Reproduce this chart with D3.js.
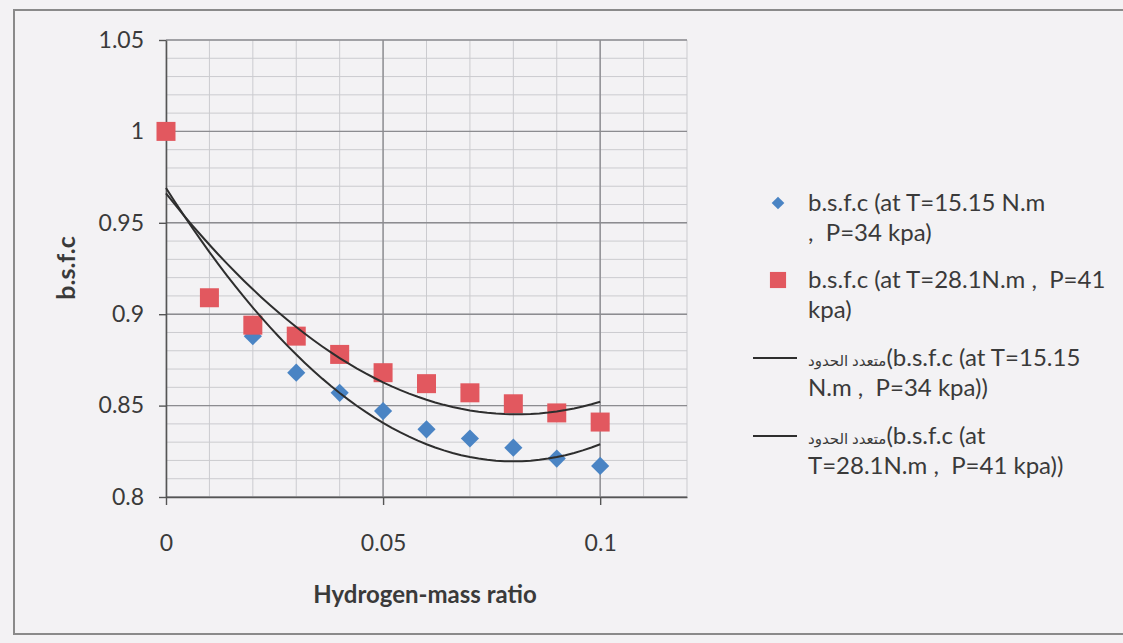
<!DOCTYPE html>
<html>
<head>
<meta charset="utf-8">
<script src="https://cdn.jsdelivr.net/npm/d3@7"></script>
<style>
  body { margin: 0; background: #f3f2f4; }
  text { font-family: Lato, "Open Sans", "DejaVu Sans", sans-serif; fill: #3a3a3a; }
</style>
</head>
<body>
<div id="grafico"></div>
<script>

// Data
const hydrogenRatio = [0, 0.01, 0.02, 0.03, 0.04, 0.05, 0.06, 0.07, 0.08, 0.09, 0.1]
const bsfcT15 = [1.0, 0.909, 0.888, 0.868, 0.857, 0.847, 0.837, 0.832, 0.827, 0.821, 0.817]
const bsfcT28 = [1.0, 0.909, 0.894, 0.888, 0.878, 0.868, 0.862, 0.857, 0.851, 0.846, 0.841]

const xTicks = [0, 0.05, 0.1]
const yTicks = [0.8, 0.85, 0.9, 0.95, 1, 1.05]

const legendText = [
    ["b.s.f.c (at T=15.15 N.m", ",  P=34 kpa)"],
    ["b.s.f.c (at T=28.1N.m ,  P=41", "kpa)"],
    ["متعدد الحدود(b.s.f.c (at T=15.15", "N.m ,  P=34 kpa))"],
    ["متعدد الحدود(b.s.f.c (at", "T=28.1N.m ,  P=41 kpa))"]
]

const blue = '#4a84c4'
const red = '#e2585f'

// Chart settings
const W = 1123, H = 643
const plot = { left: 166, right: 687, top: 40, bottom: 497 }

const svg = d3.select('#grafico').append('svg')
    .attr('width', W)
    .attr('height', H)

svg.append('rect').attr('width', W).attr('height', H).attr('fill', '#f3f2f4')

// Outer frame (photographed border)
svg.append('rect')
    .attr('x', 14).attr('y', 10)
    .attr('width', 1115).attr('height', 624)
    .attr('fill', 'none')
    .attr('stroke', '#8a8a8a')
    .attr('stroke-width', 2)

// Scales
const x = d3.scaleLinear().domain([0, 0.12]).range([plot.left, plot.right])
const y = d3.scaleLinear().domain([0.8, 1.05]).range([plot.bottom, plot.top])

// Minor grid (every 0.01)
const grid = svg.append('g')
grid.selectAll('.vmin').data(d3.range(0, 0.1205, 0.01)).join('line')
    .attr('x1', d => x(d)).attr('x2', d => x(d))
    .attr('y1', plot.top).attr('y2', plot.bottom)
    .attr('stroke', '#cbcbcf').attr('stroke-width', 1)
grid.selectAll('.hmin').data(d3.range(0.8, 1.0505, 0.01)).join('line')
    .attr('x1', plot.left).attr('x2', plot.right)
    .attr('y1', d => y(d)).attr('y2', d => y(d))
    .attr('stroke', '#cbcbcf').attr('stroke-width', 1)

// Major grid
grid.selectAll('.vmaj').data(xTicks.slice(1)).join('line')
    .attr('x1', d => x(d)).attr('x2', d => x(d))
    .attr('y1', plot.top).attr('y2', plot.bottom)
    .attr('stroke', '#8c8c90').attr('stroke-width', 1.4)
grid.selectAll('.hmaj').data(yTicks).join('line')
    .attr('x1', plot.left).attr('x2', plot.right)
    .attr('y1', d => y(d)).attr('y2', d => y(d))
    .attr('stroke', '#8c8c90').attr('stroke-width', 1.4)

// Axes
const fmt = d => String(+d.toFixed(2))

const gx = svg.append('g')
    .attr('transform', `translate(0, ${plot.bottom})`)
    .call(d3.axisBottom(x).tickValues(xTicks).tickFormat(fmt).tickSize(8).tickPadding(30).tickSizeOuter(0))
const gy = svg.append('g')
    .attr('transform', `translate(${plot.left}, 0)`)
    .call(d3.axisLeft(y).tickValues(yTicks).tickFormat(fmt).tickSize(7).tickPadding(15).tickSizeOuter(0))

for (const g of [gx, gy]) {
    g.select('.domain').attr('stroke', '#555').attr('stroke-width', 1.6)
    g.selectAll('.tick line').attr('stroke', '#555').attr('stroke-width', 1.4)
    g.selectAll('.tick text').style('font-size', '23px').attr('fill', '#3a3a3a')
}

// Markers (blue diamonds first, red squares on top)
const diamond = d3.symbol().type(d3.symbolSquare).size(165)
const square = d3.symbol().type(d3.symbolSquare).size(361)

svg.append('g').selectAll('path').data(bsfcT15).join('path')
    .attr('d', diamond)
    .attr('transform', (d, i) => `translate(${x(hydrogenRatio[i])}, ${y(d)}) rotate(45)`)
    .attr('fill', blue)

svg.append('g').selectAll('path').data(bsfcT28).join('path')
    .attr('d', square)
    .attr('transform', (d, i) => `translate(${x(hydrogenRatio[i])}, ${y(d)})`)
    .attr('fill', red)

// Polynomial (order 2) trendlines, least squares fit of each series
function fitQuadratic(xs, ys) {
    let s = [0, 0, 0, 0, 0], t = [0, 0, 0]
    xs.forEach((xv, i) => {
        for (let k = 0; k < 5; k++) s[k] += Math.pow(xv, k)
        for (let k = 0; k < 3; k++) t[k] += ys[i] * Math.pow(xv, k)
    })
    // 3x3 normal equations, Gaussian elimination
    let m = [[s[0], s[1], s[2], t[0]], [s[1], s[2], s[3], t[1]], [s[2], s[3], s[4], t[2]]]
    for (let c = 0; c < 3; c++) {
        for (let r = c + 1; r < 3; r++) {
            const f = m[r][c] / m[c][c]
            for (let k = c; k < 4; k++) m[r][k] -= f * m[c][k]
        }
    }
    let coef = [0, 0, 0]
    for (let r = 2; r >= 0; r--) {
        let v = m[r][3]
        for (let k = r + 1; k < 3; k++) v -= m[r][k] * coef[k]
        coef[r] = v / m[r][r]
    }
    return xv => coef[0] + coef[1] * xv + coef[2] * xv * xv
}

const trendX = d3.range(0, 0.1001, 0.002)
const line = d3.line().x(d => x(d[0])).y(d => y(d[1]))

for (const series of [bsfcT15, bsfcT28]) {
    const f = fitQuadratic(hydrogenRatio, series)
    svg.append('path')
        .datum(trendX.map(v => [v, f(v)]))
        .attr('d', line)
        .attr('fill', 'none')
        .attr('stroke', '#2e2e2e')
        .attr('stroke-width', 2)
}

// Axis titles
svg.append('text')
    .attr('transform', 'translate(66, 268) rotate(-90)')
    .attr('text-anchor', 'middle')
    .attr('dy', '0.35em')
    .style('font-size', '25px').style('font-weight', 'bold')
    .text('b.s.f.c')

svg.append('text')
    .attr('x', 425).attr('y', 595)
    .attr('text-anchor', 'middle')
    .attr('dy', '0.35em')
    .style('font-size', '24px').style('font-weight', 'bold')
    .text('Hydrogen-mass ratio')

// Legend
const legendY = [203, 280, 358, 436]
const legend = svg.append('g')

legendText.forEach((lines, i) => {
    const ly = legendY[i]
    if (i === 0) {
        legend.append('path').attr('d', d3.symbol().type(d3.symbolSquare).size(80))
            .attr('transform', `translate(778, ${ly}) rotate(45)`).attr('fill', blue)
    } else if (i === 1) {
        legend.append('path').attr('d', d3.symbol().type(d3.symbolSquare).size(260))
            .attr('transform', `translate(778, ${ly})`).attr('fill', red)
    } else {
        legend.append('line').attr('x1', 753).attr('x2', 797)
            .attr('y1', ly).attr('y2', ly)
            .attr('stroke', '#2e2e2e').attr('stroke-width', 2)
    }
    lines.forEach((t, j) => {
        const txt = legend.append('text')
            .attr('x', 808).attr('y', ly + j * 30)
            .attr('dy', '0.35em')
            .style('font-size', '24px')
            .style('white-space', 'pre')

        // Arabic prefix is printed smaller in the original
        const ar = t.match(/^[\u0600-\u06FF ]+/)
        if (ar) {
            txt.append('tspan').style('font-size', '15px').text(ar[0])
            txt.append('tspan').text(t.slice(ar[0].length))
        } else {
            txt.text(t)
        }
    })
})

</script>
</body>
</html>
